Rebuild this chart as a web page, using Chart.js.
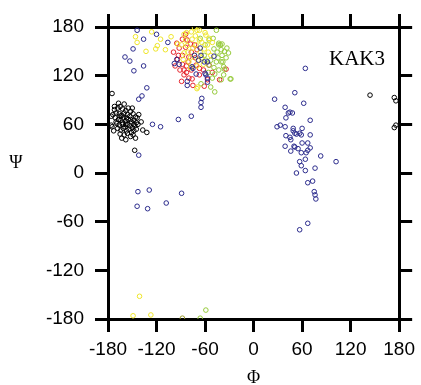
<!DOCTYPE html>
<html>
<head>
<meta charset="utf-8">
<script src="https://cdn.jsdelivr.net/npm/chart.js@4.4.1/dist/chart.umd.min.js"></script>
<style>
  body { margin: 0; background: #fff; }
  #wrap { width: 421px; height: 385px; }
</style>
</head>
<body>
<div id="wrap"><canvas id="myChart" width="421" height="385"></canvas></div>
<script>
// valores de los ejes (grados)
const ticksAngulo = [-180, -120, -60, 0, 60, 120, 180];
const tituloX = "Φ";
const tituloY = "Ψ";
const etiqueta = "KAK3";

// puntos [phi, psi], uno por color
const puntosNegros = [
  [-175, 98], [-172, 82], [-176, 70], [-175, 57], [-147, 28], [-132, 50], [-137, 53], [-139, 63],
  [-172, 78], [-168, 80], [-165, 82], [-162, 79], [-158, 77], [-155, 80], [-152, 76], [-170, 74],
  [-166, 73], [-163, 71], [-160, 74], [-156, 72], [-153, 70], [-149, 73], [-146, 69], [-171, 68],
  [-167, 66], [-164, 65], [-161, 68], [-158, 64], [-155, 66], [-151, 63], [-148, 65], [-145, 62],
  [-169, 61], [-166, 59], [-162, 60], [-159, 57], [-156, 60], [-153, 58], [-150, 56], [-147, 58],
  [-143, 60], [-168, 55], [-164, 53], [-161, 55], [-157, 52], [-154, 54], [-151, 50], [-148, 52],
  [-145, 54], [-165, 48], [-160, 47], [-156, 49], [-152, 45], [-149, 47], [-146, 43], [-163, 43],
  [-158, 41], [-170, 63], [-174, 72], [-160, 85], [-150, 80], [-157, 68], [-162, 62], [-165, 70],
  [-152, 66], [-158, 60], [-148, 60], [-144, 68], [-176, 59], [-173, 52], [-142, 72], [-167, 86],
  [144, 96], [174, 93], [176, 89], [174, 56], [176, 59]
];

const puntosAzules = [
  [-144, 176], [-120, 171], [-136, 165], [-106, 161], [-149, 153], [-159, 143], [-153, 138],
  [-136, 132], [-148, 126], [-132, 105], [-138, 95], [-142, 91], [-82, 113], [-82, 108],
  [-64, 92], [-65, 87], [-65, 81], [-77, 70], [-93, 66], [-125, 60], [-115, 57], [-142, 22],
  [-95, 140], [-98, 135], [-73, 145], [-68, 139], [-61, 137], [-57, 137], [-49, 144], [-75, 129],
  [-60, 123], [-57, 117], [-66, 154], [-92, 134], [-65, 145], [-76, 131], [-71, 122], [-59, 121],
  [-57, 112],
  [-143, -23], [-129, -21], [-89, -25], [-144, -41], [-131, -44], [-108, -37],
  [64, 129], [51, 99], [26, 91], [62, 86], [39, 81], [43, 74], [45, 75], [48, 74], [40, 68],
  [70, 65], [33, 59], [29, 57], [39, 57], [49, 55], [49, 52], [60, 55], [51, 49], [53, 48],
  [57, 49], [59, 47], [40, 46], [45, 44], [70, 47], [46, 41], [39, 33], [60, 37], [67, 37],
  [50, 33], [51, 32], [70, 31], [67, 28], [46, 27], [55, 30], [59, 25], [65, 25], [83, 21],
  [64, 17], [57, 14], [59, 9], [102, 14], [76, 6], [53, 0], [64, 3], [73, -10], [67, -12],
  [75, -23], [76, -27], [77, -32], [67, -62], [57, -70]
];

const puntosRojos = [
  [-95, 160], [-99, 149], [-89, 113], [-86, 127], [-83, 124], [-80, 117], [-42, 115], [-88, 165],
  [-84, 155], [-80, 143], [-88, 134], [-88, 145], [-77, 127], [-86, 121], [-76, 116], [-67, 121],
  [-57, 115], [-51, 124], [-71, 133], [-94, 140], [-92, 154], [-82, 164], [-73, 158], [-81, 137],
  [-77, 149], [-72, 142], [-84, 171], [-67, 129], [-62, 127], [-91, 127], [-97, 132], [-75, 108],
  [-61, 107], [-55, 133], [-93, 145], [-78, 159], [-70, 152], [-83, 132], [-34, 128]
];

const puntosAmarillos = [
  [-146, 168], [-144, 161], [-126, 174], [-115, 165], [-119, 157], [-121, 153], [-133, 150],
  [-102, 168], [-94, 159], [-109, 152],
  [-83, 173], [-70, 176], [-60, 173], [-70, 104], [-69, 106], [-87, 140], [-86, 171], [-77, 174],
  [-67, 176], [-59, 170], [-76, 165], [-71, 158], [-81, 149], [-73, 145], [-69, 139], [-61, 153],
  [-80, 137], [-84, 164], [-64, 161], [-55, 166], [-75, 154], [-66, 149], [-57, 158], [-82, 157],
  [-72, 169], [-64, 142], [-78, 130], [-86, 148], [-53, 145], [-67, 164], [-73, 179], [-89, 158],
  [-62, 134], [-56, 149], [-51, 161], [-78, 142], [-70, 132],
  [-141, -152], [-149, -176], [-127, -175]
];

const puntosVerdes = [
  [-46, 176], [-29, 116], [-48, 100], [-39, 159], [-43, 160], [-55, 164], [-49, 153], [-43, 158],
  [-39, 145], [-46, 137], [-43, 127], [-37, 131], [-55, 133], [-61, 145], [-53, 106], [-65, 110],
  [-40, 115], [-34, 142], [-50, 166], [-45, 149], [-60, 158], [-53, 139], [-33, 154], [-48, 122],
  [-38, 137], [-56, 124], [-31, 148], [-44, 142], [-51, 117], [-59, 139], [-37, 121], [-66, 166],
  [-49, 130], [-40, 152], [-41, 158], [-36, 150], [-40, 137], [-36, 128], [-28, 116],
  [-66, -179], [-59, -169]
];

const puntosOliva = [[-88, -179]];

function aPuntos(lista) {
  return lista.map(p => ({ x: p[0], y: p[1] }));
}

function serie(lista, color) {
  return {
    data: aPuntos(lista),
    borderColor: color,
    backgroundColor: 'rgba(0,0,0,0)',
    pointRadius: 2.3,
    pointBorderWidth: 1,
    pointHoverRadius: 2.3
  };
}

function ejeBase(pos, conTexto, tam) {
  const vertical = pos === 'left' || pos === 'right';
  return {
    type: 'linear',
    position: pos,
    min: -180,
    max: 180,
    afterBuildTicks: (eje) => { eje.ticks = ticksAngulo.map(v => ({ value: v })); },
    afterFit: (eje) => { if (vertical) eje.width = tam; else eje.height = tam; },
    ticks: {
      display: conTexto,
      color: '#000',
      padding: vertical ? 11 : 6,
      font: { family: 'Liberation Sans, Arial, sans-serif', size: 19 },
      maxRotation: 0,
      autoSkip: false
    },
    grid: {
      drawOnChartArea: false,
      drawTicks: true,
      tickLength: 13,
      lineWidth: 3,
      color: '#000'
    },
    border: { display: true, width: 3, color: '#000' }
  };
}

// textos: titulos de ejes y etiqueta
const textos = {
  id: 'textos',
  afterDraw(chart) {
    const ctx = chart.ctx;
    const sx = chart.scales.x;
    ctx.save();
    ctx.fillStyle = '#000';
    ctx.textAlign = 'center';
    ctx.textBaseline = 'middle';
    ctx.font = '18px "Liberation Serif", "Times New Roman", serif';
    ctx.fillText(tituloX, sx.getPixelForValue(0), 378);
    ctx.fillText(tituloY, 16, 163);
    ctx.font = '21px "Liberation Serif", "Times New Roman", serif';
    ctx.fillText(etiqueta, 357, 59);
    ctx.restore();
  }
};

const config = {
  type: 'scatter',
  data: {
    datasets: [
      serie(puntosAzules, '#2b2b8c'),
      serie(puntosAmarillos, '#eee52a'),
      serie(puntosVerdes, '#95c93a'),
      serie(puntosRojos, '#e5232b'),
      serie(puntosOliva, '#9a9a30'),
      serie(puntosNegros, '#000000')
    ]
  },
  options: {
    responsive: false,
    animation: false,
    layout: { padding: 0 },
    plugins: { legend: { display: false }, tooltip: { enabled: false } },
    scales: {
      x: ejeBase('bottom', true, 66),
      y: ejeBase('left', true, 108),
      x2: ejeBase('top', false, 27),
      y2: ejeBase('right', false, 19)
    }
  },
  plugins: [textos]
};

new Chart(document.getElementById('myChart'), config);
</script>
</body>
</html>
